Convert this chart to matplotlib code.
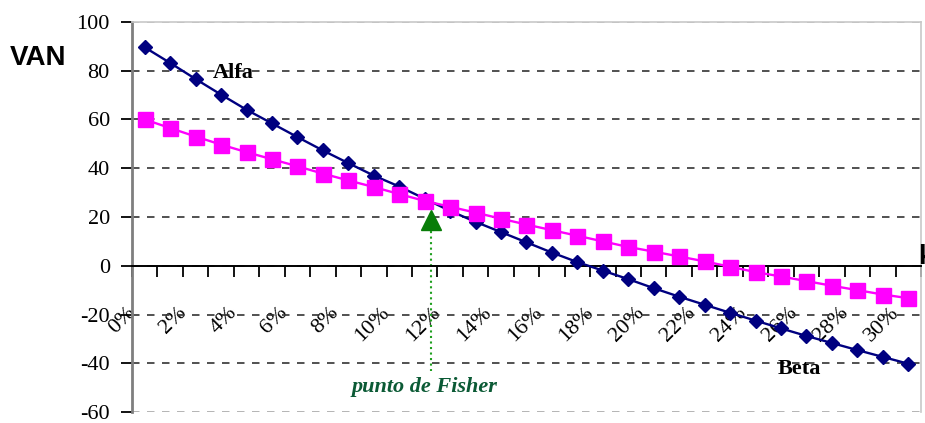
import numpy as np
import matplotlib
matplotlib.use('Agg')
import matplotlib.pyplot as plt
from matplotlib.transforms import ScaledTranslation

plt.rcParams['font.family'] = ['Liberation Serif', 'DejaVu Serif']
plt.rcParams['axes.unicode_minus'] = False

# tasas de descuento k (%) y VAN de cada proyecto
tasas = np.arange(0, 31)
van_alfa = [89.6, 83.2, 76.6, 70.2, 64.0, 58.4, 52.8, 47.3, 42.1, 37.0,
            32.5, 27.5, 22.5, 18.0, 13.8, 9.6, 5.4, 1.5, -2.0, -5.5,
            -9.2, -12.7, -16.0, -19.3, -22.5, -25.7, -28.8, -31.7, -34.6, -37.4, -40.2]
van_beta = [60.0, 56.5, 53.0, 49.7, 46.6, 43.7, 40.8, 37.8, 35.0, 32.3,
            29.4, 26.6, 24.2, 21.8, 19.3, 16.9, 14.6, 12.3, 10.0, 7.7,
            5.8, 3.8, 1.8, -0.4, -2.6, -4.4, -6.3, -8.2, -10.0, -11.8, -13.3]
etiquetas_x = ['%d%%' % t for t in tasas[::2]]
marcas_y = [-60, -40, -20, 0, 20, 40, 60, 80, 100]

# punto de Fisher (marca y linea punteada)
fisher_x = 11.25
fisher_y = 18.9
fisher_fondo = -43

fig = plt.figure(figsize=(9.25, 4.23), dpi=100)
ax = fig.add_axes([132/925, 11/423, 789/925, 390/423])

ax.plot(tasas, van_alfa, color='#000080', lw=1.7, marker='D', ms=7.4,
        mec='#000080', zorder=3)
ax.plot(tasas, van_beta, color='#FF00FF', lw=1.7, marker='s', ms=10.8,
        mec='#FF00FF', zorder=4)

ax.plot([fisher_x, fisher_x], [fisher_y, fisher_fondo], color='#1f9f1f',
        lw=1.5, ls=':', zorder=2)
ax.plot([fisher_x], [fisher_y], marker='^', ms=15, color='#087d08', zorder=5)

ax.set_xlim(-0.5, 30.5)
ax.set_ylim(-60, 100)

# eje x cruzando en 0, marcas entre categorias
ax.spines['bottom'].set_position(('data', 0))
ax.spines['bottom'].set_color('black')
ax.spines['bottom'].set_linewidth(1.4)
ax.spines['left'].set_color('#7f7f7f')
ax.spines['left'].set_linewidth(2)
for s in ('top', 'right'):
    ax.spines[s].set_color('#c8c8c8')
    ax.spines[s].set_linewidth(1.2)

ax.set_xticks(np.arange(-0.5, 31, 1))
ax.set_xticks(tasas[::2], minor=True)
ax.set_xticklabels(etiquetas_x, minor=True, rotation=45, ha='right',
                   va='baseline', rotation_mode='anchor')
ax.tick_params(axis='x', which='major', direction='out', length=8, width=1.3,
               labelbottom=False)
ax.tick_params(axis='x', which='minor', length=0, pad=34, labelsize=16)
for lab in ax.get_xticklabels(minor=True):
    lab.set_transform(lab.get_transform() + ScaledTranslation(-0.09, 0, fig.dpi_scale_trans))

ax.set_yticks(marcas_y)
ax.tick_params(axis='y', direction='out', length=8, width=1.3, pad=8, labelsize=16)

ax.yaxis.grid(True, linestyle=(0, (4.5, 4.5)), color='#333333', lw=1.2)
ax.set_axisbelow(True)
for v, g in zip(marcas_y, ax.get_ygridlines()):
    if v in (100, -60):
        g.set_color('#a8a8a8')

ax.text(2.68, 79.1, 'Alfa', fontsize=16, fontweight='bold', ha='left', va='center')
ax.text(24.88, -42.4, 'Beta', fontsize=16, fontweight='bold', ha='left', va='center')
ax.text(11.0, -49.7, 'punto de Fisher', fontsize=16, fontweight='bold',
        style='italic', color='#0b5a35', ha='center', va='center')

fig.text(10/925, 1 - 58/423, 'VAN', family='Liberation Sans', fontweight='bold',
         fontsize=20, ha='left', va='center')
fig.text(918/925, 1 - 257/423, 'k', family='Liberation Sans', fontweight='bold',
         fontsize=20, ha='left', va='center')

fig.savefig('out.png', dpi=100)
